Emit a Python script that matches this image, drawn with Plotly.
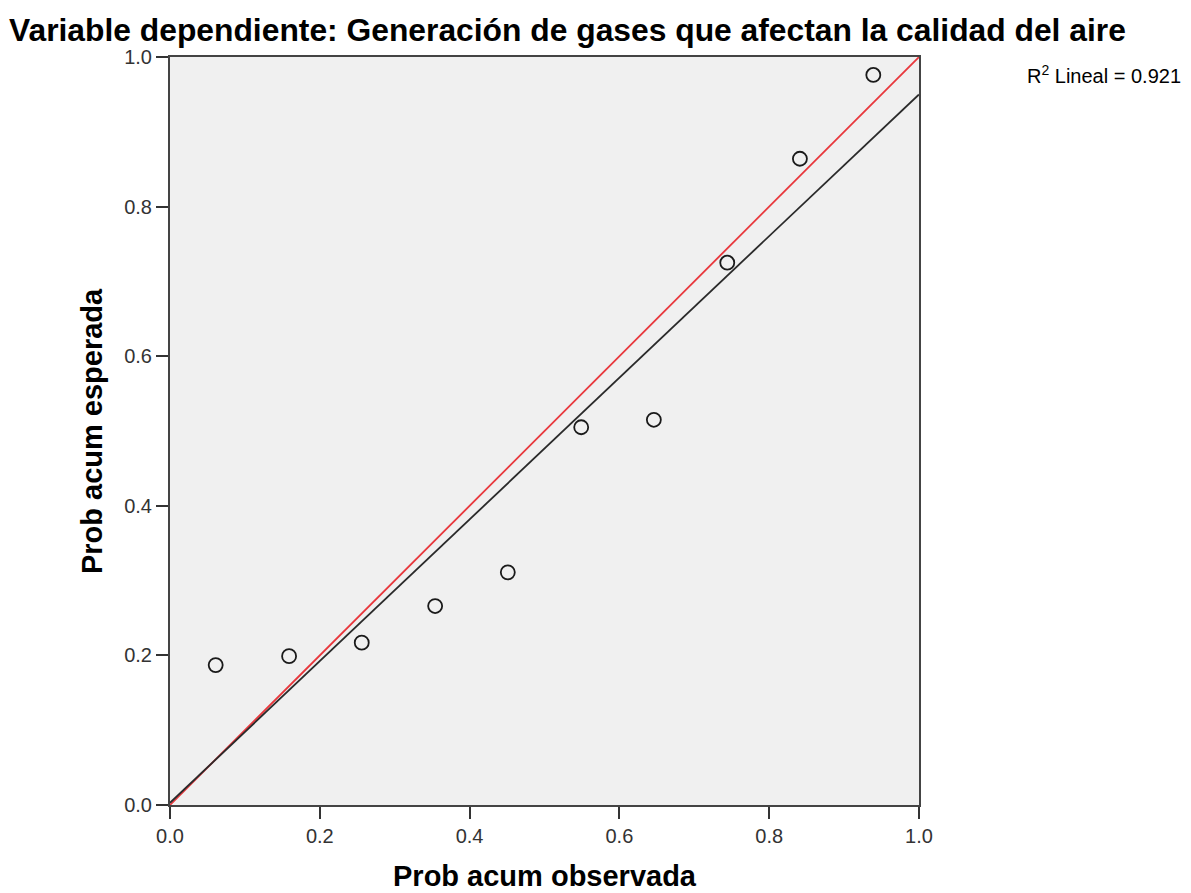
import numpy as np
import plotly.graph_objects as go

# Data
prob_obs = [0.061, 0.159, 0.256, 0.354, 0.451, 0.549, 0.646, 0.744, 0.841, 0.939]
prob_esp = [0.187, 0.199, 0.217, 0.266, 0.311, 0.505, 0.515, 0.725, 0.864, 0.976]
ref_line = [0.0, 1.0]
tick_vals = [0.0, 0.2, 0.4, 0.6, 0.8, 1.0]
tick_text = ["0.0", "0.2", "0.4", "0.6", "0.8", "1.0"]

title_text = "<b>Variable dependiente: Generación de gases que afectan la calidad del aire</b>"
r2_text = "R<sup>2</sup> Lineal = 0.921"

slope, intercept = np.polyfit(prob_obs, prob_esp, 1)
fit_x = [0.0, 1.0]
fit_y = [intercept + slope * v for v in fit_x]

FONT = "Arial, Liberation Sans"

fig = go.Figure()
fig.add_trace(go.Scatter(x=ref_line, y=ref_line, mode="lines",
                         line=dict(color="#e8383d", width=1.8), showlegend=False, hoverinfo="skip"))
fig.add_trace(go.Scatter(x=fit_x, y=fit_y, mode="lines",
                         line=dict(color="#2a2a2a", width=1.8), showlegend=False, hoverinfo="skip"))
fig.add_trace(go.Scatter(x=prob_obs, y=prob_esp, mode="markers",
                         marker=dict(symbol="circle-open", size=14, color="#1a1a1a",
                                     line=dict(width=1.8, color="#1a1a1a")),
                         showlegend=False))

axis_common = dict(range=[0, 1], tickvals=tick_vals, ticktext=tick_text,
                   showgrid=False, zeroline=False, showline=True, mirror=True,
                   linecolor="#444444", linewidth=2, ticks="outside", ticklen=12,
                   tickwidth=2, tickcolor="#333333",
                   tickfont=dict(family=FONT, size=20, color="#333333"))

fig.update_layout(
    width=1191, height=893,
    margin=dict(l=170, r=272, t=57, b=88),
    paper_bgcolor="white", plot_bgcolor="#f0f0f0",
    xaxis=dict(**axis_common),
    yaxis=dict(**axis_common),
    font=dict(family=FONT),
    annotations=[
        dict(text=title_text, xref="paper", yref="paper", x=-0.217, y=1.036,
             xanchor="left", yanchor="middle", showarrow=False,
             font=dict(size=31.8, color="#000000", family=FONT)),
        dict(text="<b>Prob acum observada</b>", xref="paper", yref="paper", x=0.5, y=-0.095,
             xanchor="center", yanchor="middle", showarrow=False,
             font=dict(size=29, color="#000000", family=FONT)),
        dict(text="<b>Prob acum esperada</b>", xref="paper", yref="paper", x=-0.104, y=0.5,
             xanchor="center", yanchor="middle", showarrow=False, textangle=-90,
             font=dict(size=29, color="#000000", family=FONT)),
        dict(text=r2_text, xref="paper", yref="paper", x=1.1415, y=0.976,
             xanchor="left", yanchor="middle", showarrow=False,
             font=dict(size=20, color="#000000", family=FONT)),
    ],
)

fig.write_html("out.html")
